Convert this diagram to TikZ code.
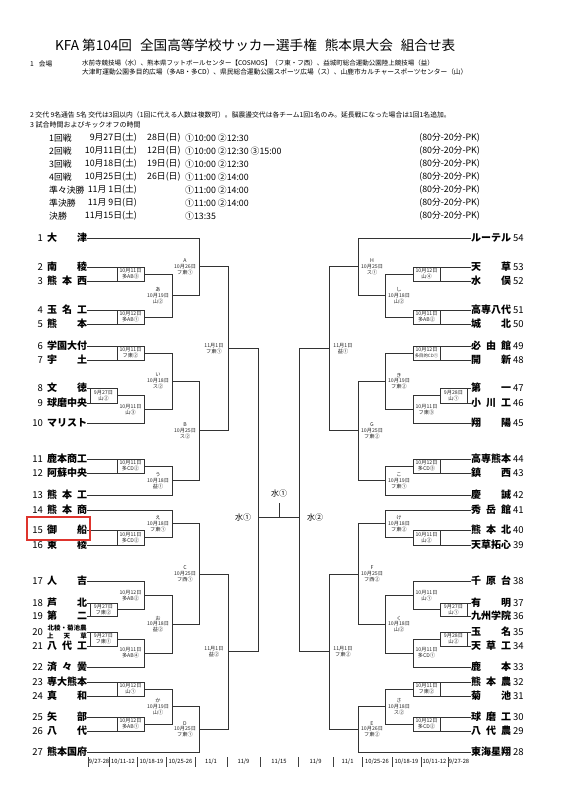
\documentclass[tikz,border=0pt]{standalone}
\usepackage{fontspec}
\setmainfont{Noto Sans CJK JP}
\usetikzlibrary{calc}
\definecolor{hilite}{RGB}{222,52,45}
\tikzset{
  br/.style={draw=black!80, line width=0.7pt},
  lbl/.style={font=\fontsize{5.2}{5.9}\selectfont, align=center, inner sep=0pt, text=black!85},
  tnm/.style={font=\fontsize{10}{12}\selectfont\bfseries, inner sep=0pt},
  tno/.style={font=\fontsize{9.5}{11}\selectfont, inner sep=0pt},
  hd/.style={anchor=west, inner sep=0pt, font=\fontsize{6.7}{8}\selectfont},
  sch/.style={inner sep=0pt, font=\fontsize{8.8}{10}\selectfont},
  mz/.style={inner sep=0pt, font=\fontsize{8}{9}\selectfont},
  dt/.style={inner sep=0pt, font=\fontsize{5.8}{7}\selectfont},
}
\newcommand\tn[1]{\makebox[40pt][s]{#1}}
\newcommand\hf{\hfill\relax}
% match: name, x of vertical, input1, input2, label, label dx
\newcommand\mt[6]{%
  \draw[br] let \p1=(#3), \p2=(#4) in (\p1) -- (#2pt,\y1) -- (#2pt,\y2) -- (\p2)
    (#2pt,{0.5*(\y1+\y2)}) coordinate (#1)
    node[lbl] (#1l) at ({#2pt+(#6pt)},{0.5*(\y1+\y2)}) {#5};}
\newcommand\mtb[6]{%
  \mt{#1}{#2}{#3}{#4}{#5}{#6}%
  \draw[br] let \p1=(#3), \p2=(#4) in ({#2pt+2*(#6pt)},\y1) -- ({#2pt+2*(#6pt)},\y2);}
\begin{document}
\begin{tikzpicture}[x=1pt,y=-1pt]
\fill[white] (0,0) rectangle (560,800);
\useasboundingbox (0,0) rectangle (560,800);

% ---------- header ----------
\node[anchor=west, inner sep=0pt, font=\fontsize{13.6}{16}\selectfont] (title) at (55,45) {KFA 第104回\hspace{8pt}全国高等学校サッカー選手権\hspace{8pt}熊本県大会\hspace{8pt}組合せ表};
\node[hd] (s1) at (30,63.5) {1\hspace{5pt}会場};
\node[hd, font=\fontsize{6.5}{8}\selectfont] (v1) at (82,63.5) {水前寺競技場（水）、熊本県フットボールセンター【COSMOS】（フ東・フ西）、益城町総合運動公園陸上競技場（益）};
\node[hd] (v2) at (82,72) {大津町運動公園多目的広場（多AB・多CD）、県民総合運動公園スポーツ広場（ス）、山鹿市カルチャースポーツセンター（山）};
\node[hd, font=\fontsize{6.8}{8}\selectfont] (s2) at (30,115) {2 交代 9名通告 5名 交代は3回以内（1回に代える人数は複数可）。脳震盪交代は各チーム1回1名のみ。延長戦になった場合は1回1名追加。};
\node[hd, font=\fontsize{7}{8}\selectfont] (s3) at (30,125) {3 試合時間およびキックオフの時間};

\foreach \i/\r/\da/\db/\tm in {0/1回戦/{9月27日(土)}/{28日(日)}/{①10:00 ②12:30},
  1/2回戦/{10月11日(土)}/{12日(日)}/{①10:00 ②12:30 ③15:00},
  2/3回戦/{10月18日(土)}/{19日(日)}/{①10:00 ②12:30},
  3/4回戦/{10月25日(土)}/{26日(日)}/{①11:00 ②14:00},
  4/準々決勝/{11月 1日(土)}/{}/{①11:00 ②14:00},
  5/準決勝/{11月 9日(日)}/{}/{①11:00 ②14:00},
  6/決勝/{11月15日(土)}/{}/{①13:35}}{
  \node[sch, anchor=west] (rn\i) at (49,138+13*\i) {\r};
  \node[sch, anchor=east] (da\i) at (137,138+13*\i) {\da};
  \node[sch, anchor=west] (db\i) at (147,138+13*\i) {\db};
  \node[sch, anchor=west] (tm\i) at (185,138+13*\i) {\tm};
  \node[sch, anchor=east] (pk\i) at (480,138+13*\i) {(80分-20分-PK)};
}

% ---------- left teams ----------
\foreach \k/\y/\nm in {1/238/{大\hf 津}, 2/267/{南\hf 稜}, 3/281/{熊\hf 本\hf 西}, 4/310/{玉\hf 名\hf 工},
  5/324/{熊\hf 本}, 6/346/{学\hf 園\hf 大\hf 付}, 7/360/{宇\hf 土}, 8/388/{文\hf 徳},
  9/403/{球\hf 磨\hf 中\hf 央}, 10/423/{マ\hf リ\hf ス\hf ト}, 11/459/{鹿\hf 本\hf 商\hf 工},
  12/473/{阿\hf 蘇\hf 中\hf 央}, 13/495/{熊\hf 本\hf 工}, 14/510/{熊\hf 本\hf 商},
  15/530/{御\hf 船}, 16/545/{東\hf 稜}, 17/581/{人\hf 吉}, 18/603/{芦\hf 北}, 19/616/{第\hf 二},
  21/646/{八\hf 代\hf 工}, 22/667/{済\hf 々\hf 黌}, 23/682/{専\hf 大\hf 熊\hf 本},
  24/696/{真\hf 和}, 25/717/{矢\hf 部}, 26/731/{八\hf 代}, 27/752/{熊\hf 本\hf 国\hf 府}}{
  \node[tnm] (t\k) at (67,\y) {\tn{\nm}};
  \node[tno, anchor=east] (nl\k) at (43,\y) {\k};
}
\node[inner sep=0pt, align=center, font=\fontsize{6.5}{8.5}\selectfont\bfseries] (t20) at (67,632) {北稜・菊池農\\\makebox[40pt][s]{上\hf 天\hf 草}};
\node[tno, anchor=east] (nl20) at (43,632) {20};

% ---------- right teams ----------
\foreach \k/\y/\nm in {54/238/{ル\hf ー\hf テ\hf ル}, 53/267/{天\hf 草}, 52/281/{水\hf 俣},
  51/310/{高\hf 専\hf 八\hf 代}, 50/324/{城\hf 北}, 49/346/{必\hf 由\hf 館}, 48/360/{開\hf 新},
  47/388/{第\hf 一}, 46/403/{小\hf 川\hf 工}, 45/423/{翔\hf 陽}, 44/459/{高\hf 専\hf 熊\hf 本},
  43/473/{鎮\hf 西}, 42/495/{慶\hf 誠}, 41/510/{秀\hf 岳\hf 館}, 40/530/{熊\hf 本\hf 北},
  39/545/{天\hf 草\hf 拓\hf 心}, 38/581/{千\hf 原\hf 台}, 37/603/{有\hf 明}, 36/616/{九\hf 州\hf 学\hf 院},
  35/632/{玉\hf 名}, 34/646/{天\hf 草\hf 工}, 33/667/{鹿\hf 本}, 32/682/{熊\hf 本\hf 農},
  31/696/{菊\hf 池}, 30/717/{球\hf 磨\hf 工}, 29/731/{八\hf 代\hf 農}, 28/752/{東\hf 海\hf 星\hf 翔}}{
  \node[tnm] (r\k) at (491,\y) {\tn{\nm}};
  \node[tno, anchor=west] (nr\k) at (513,\y) {\k};
}

% ---------- left bracket ----------
\mtb{m23}{144}{t2.east}{t3.east}{10月11日\\多AB③}{-13.5}
\mtb{m45}{144}{t4.east}{t5.east}{10月12日\\多AB①}{-13.5}
\mt{ma}{172}{m23}{m45}{あ\\10月19日\\山②}{-14}
\mt{mA}{199}{t1.east}{ma}{A\\10月26日\\フ東①}{-14}
\mtb{m67}{144}{t6.east}{t7.east}{10月11日\\フ東②}{-13.5}
\mtb{m89}{117}{t8.east}{t9.east}{9月27日\\山②}{-13.5}
\mt{m910}{144}{m89}{t10.east}{10月11日\\山③}{-13.5}
\mt{mi}{172}{m67}{m910}{い\\10月18日\\ス②}{-14}
\mtb{m1112}{144}{t11.east}{t12.east}{10月11日\\多CD②}{-13.5}
\mt{mu}{172}{m1112}{t13.east}{う\\10月18日\\益①}{-14}
\mt{mB}{199}{mi}{mu}{B\\10月25日\\ス②}{-14}
\mt{q1}{228}{mA}{mB}{11月1日\\フ東①}{-14}
\mtb{m1516}{144}{t15.east}{t16.east}{10月11日\\多CD②}{-13.5}
\mt{me}{172}{t14.east}{m1516}{え\\10月18日\\フ東①}{-14}
\mtb{m1819}{117}{t18.east}{t19.east}{9月27日\\フ東②}{-13.5}
\mt{m17}{144}{t17.east}{m1819}{10月12日\\多AB②}{-13.5}
\mtb{m2021}{117}{t20.east}{t21.east}{9月27日\\フ東①}{-13.5}
\mt{m22}{144}{m2021}{t22.east}{10月11日\\多AB④}{-13.5}
\mt{mo}{172}{m17}{m22}{お\\10月18日\\益②}{-14}
\mt{mC}{199}{me}{mo}{C\\10月25日\\フ西①}{-14}
\mtb{m2324}{144}{t23.east}{t24.east}{10月12日\\山①}{-13.5}
\mtb{m2526}{144}{t25.east}{t26.east}{10月12日\\多AB①}{-13.5}
\mt{mka}{172}{m2324}{m2526}{か\\10月19日\\山①}{-14}
\mt{mD}{199}{mka}{t27.east}{D\\10月25日\\フ東①}{-14}
\mt{q2}{228}{mC}{mD}{11月1日\\益②}{-14}

% ---------- right bracket ----------
\mtb{n5352}{413}{r53.west}{r52.west}{10月12日\\山④}{13.5}
\mtb{n5150}{413}{r51.west}{r50.west}{10月11日\\多AB②}{13.5}
\mt{nshi}{385}{n5352}{n5150}{し\\10月18日\\山②}{14}
\mt{nH}{358}{r54.west}{nshi}{H\\10月25日\\ス①}{14}
\mtb{n4948}{413}{r49.west}{r48.west}{10月12日\\{\fontsize{4.4}{5}\selectfont 多目的CD①}}{13.5}
\mtb{n4746}{440}{r47.west}{r46.west}{9月28日\\山①}{13.5}
\mt{n45}{413}{n4746}{r45.west}{10月11日\\フ東③}{13.5}
\mt{nki}{385}{n4948}{n45}{き\\10月19日\\フ東②}{14}
\mtb{n4443}{413}{r44.west}{r43.west}{10月12日\\多CD③}{13.5}
\mt{nko}{385}{n4443}{r42.west}{こ\\10月19日\\フ東①}{14}
\mt{nG}{358}{nki}{nko}{G\\10月25日\\フ東②}{14}
\mt{q3}{329}{nH}{nG}{11月1日\\益①}{14}
\mtb{n4039}{413}{r40.west}{r39.west}{10月11日\\山②}{13.5}
\mt{nke}{385}{r41.west}{n4039}{け\\10月18日\\フ東②}{14}
\mtb{n3736}{440}{r37.west}{r36.west}{9月27日\\山①}{13.5}
\mt{n38}{413}{r38.west}{n3736}{10月11日\\山①}{13.5}
\mtb{n3534}{440}{r35.west}{r34.west}{9月28日\\山②}{13.5}
\mt{n33}{413}{n3534}{r33.west}{10月11日\\多CD①}{13.5}
\mt{nku}{385}{n38}{n33}{く\\10月18日\\山②}{14}
\mt{nF}{358}{nke}{nku}{F\\10月25日\\フ西②}{14}
\mtb{n3231}{413}{r32.west}{r31.west}{10月11日\\フ東②}{13.5}
\mtb{n3029}{413}{r30.west}{r29.west}{10月12日\\多CD②}{13.5}
\mt{nsa}{385}{n3231}{n3029}{さ\\10月18日\\ス②}{14}
\mt{nE}{358}{nsa}{r28.west}{E\\10月26日\\フ東②}{14}
\mt{q4}{329}{nF}{nE}{11月1日\\フ東②}{14}

% ---------- semifinals and final ----------
\draw[br] let \p1=(q1), \p2=(q2) in (\p1) -- (258pt,\y1) -- (258pt,\y2) -- (\p2);
\draw[br] let \p1=(q3), \p2=(q4) in (\p1) -- (299pt,\y1) -- (299pt,\y2) -- (\p2);
\coordinate (sL) at (258,517);
\coordinate (sR) at (299,517);
\coordinate (fin) at (279,517);
\coordinate (fint) at (279,503);
\draw[br] (sL) -- (sR);
\draw[br] (fin) -- (fint);
\node[mz] (finl) at (279,493) {水①};
\node[mz] (sLl) at (243,517) {水①};
\node[mz] (sRl) at (315,517) {水②};

% ---------- highlight ----------
\draw[hilite, line width=1.6pt] (27,517) rectangle (90,540);

% ---------- date row ----------
\foreach \bx in {88,109,137,166,195,227,260,298,333,362,392,421,448}{
  \draw[black!75, line width=0.5pt] (\bx,757) -- (\bx,767);
}
\foreach \j/\dx/\dtx in {1/99/{9/27-28}, 2/123/{10/11-12}, 3/151.5/{10/18-19}, 4/180.5/{10/25-26}, 5/211/{11/1},
  6/243.5/{11/9}, 7/279/{11/15}, 8/315.5/{11/9}, 9/347.5/{11/1}, 10/377/{10/25-26}, 11/406.5/{10/18-19},
  12/434.5/{10/11-12}, 13/459/{9/27-28}}{
  \node[dt] (dd\j) at (\dx,762) {\dtx};
}
\end{tikzpicture}
\end{document}
